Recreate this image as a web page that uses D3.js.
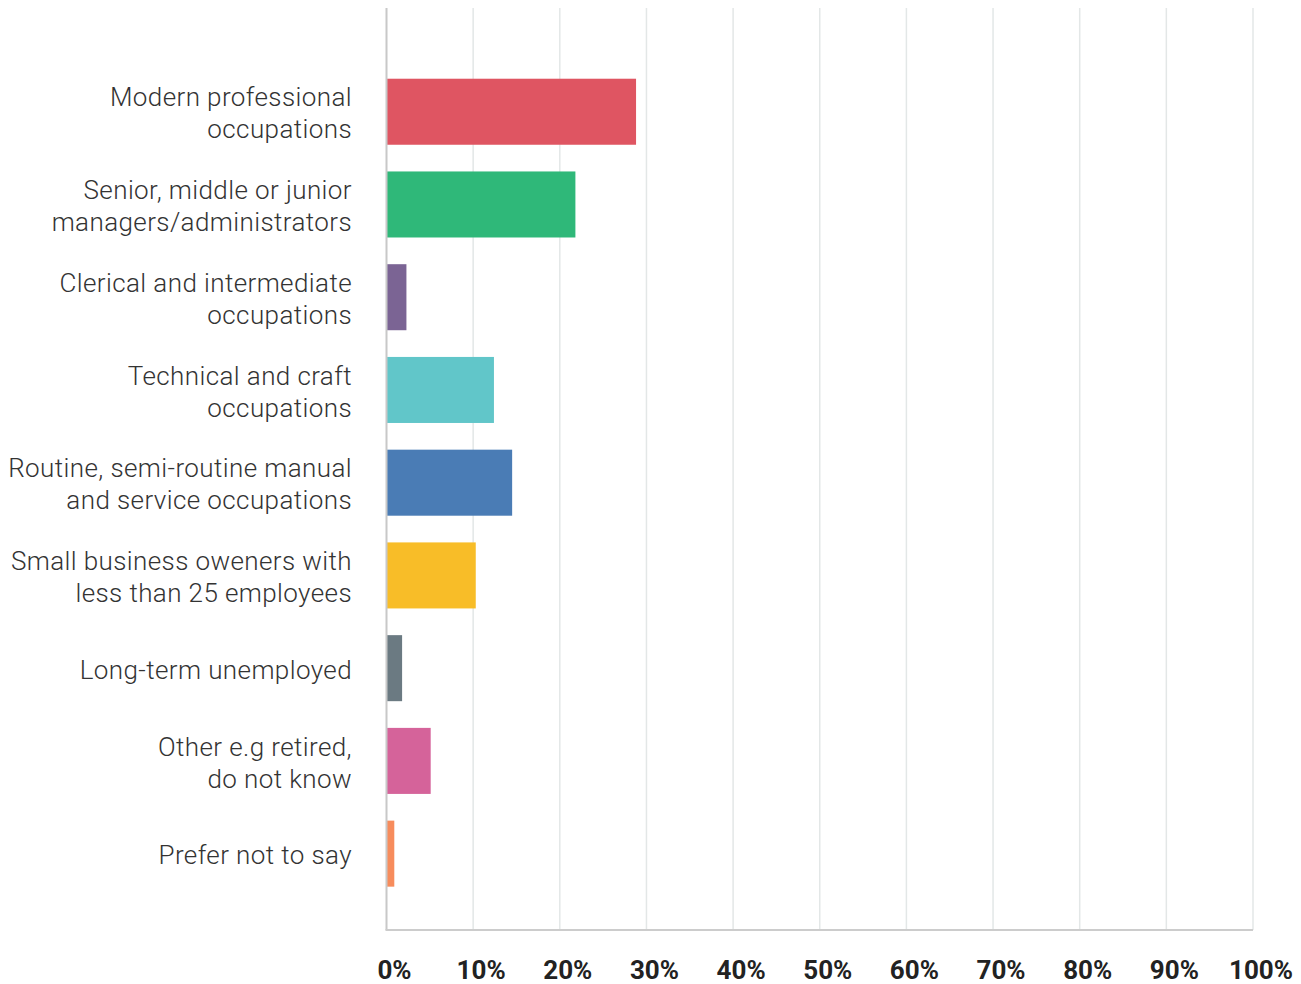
<!DOCTYPE html>
<html>
<head>
<meta charset="utf-8">
<script src="https://cdn.jsdelivr.net/npm/d3@7"></script>
<style>
  html, body { margin: 0; padding: 0; background: #ffffff; }
  svg { display: block; }
</style>
</head>
<body>
<svg id="chart" width="1301" height="984"></svg>
<script>
// Occupation groups (label lines), share of respondents (%) and bar colours
const categories = [
  ["Modern professional", "occupations"],
  ["Senior, middle or junior", "managers/administrators"],
  ["Clerical and intermediate", "occupations"],
  ["Technical and craft", "occupations"],
  ["Routine, semi-routine manual", "and service occupations"],
  ["Small business oweners with", "less than 25 employees"],
  ["Long-term unemployed"],
  ["Other e.g retired,", "do not know"],
  ["Prefer not to say"]
];
const values = [28.8, 21.8, 2.3, 12.4, 14.5, 10.3, 1.8, 5.1, 0.9];
const colors = ["#df5562", "#2fb879", "#7b6494", "#61c6c9", "#4a7cb5",
                "#f8bd28", "#6b7a82", "#d5639a", "#f78c5c"];
const tickValues = [0, 10, 20, 30, 40, 50, 60, 70, 80, 90, 100];

const svg = d3.select("#chart");
const plot = { left: 386.5, right: 1253, top: 8, bottom: 930 };

const x = d3.scaleLinear().domain([0, 100]).range([plot.left, plot.right]);
const y = d3.scaleBand()
  .domain(d3.range(categories.length))
  .range([plot.top, plot.bottom])
  .paddingInner(0.288)
  .paddingOuter(0.615)
  .align(0.62);

// vertical gridlines
svg.append("g")
  .selectAll("line")
  .data(tickValues.slice(1))
  .join("line")
  .attr("x1", d => x(d)).attr("x2", d => x(d))
  .attr("y1", plot.top).attr("y2", plot.bottom)
  .attr("stroke", "#e3e7e7")
  .attr("stroke-width", 1.5);

// bars
svg.append("g")
  .selectAll("rect")
  .data(values)
  .join("rect")
  .attr("x", x(0) + 0.5)
  .attr("y", (d, i) => y(i))
  .attr("width", d => x(d) - x(0) - 0.5)
  .attr("height", y.bandwidth())
  .attr("fill", (d, i) => colors[i]);

// axis lines
svg.append("line")
  .attr("x1", x(0)).attr("x2", x(0))
  .attr("y1", plot.top).attr("y2", plot.bottom)
  .attr("stroke", "#c8c8c8").attr("stroke-width", 2);
svg.append("line")
  .attr("x1", x(0) - 1).attr("x2", plot.right)
  .attr("y1", plot.bottom).attr("y2", plot.bottom)
  .attr("stroke", "#cccccc").attr("stroke-width", 2);

// category labels, centred on each bar by cap height
const labelSize = 26;
const capHalf = labelSize * 0.711 / 2;
const lineGap = 32;
const labels = svg.append("g")
  .attr("font-family", "Roboto, sans-serif")
  .attr("font-weight", 300)
  .attr("font-size", labelSize)
  .attr("letter-spacing", 0.4)
  .attr("fill", "#333333")
  .attr("text-anchor", "end");
categories.forEach((lines, i) => {
  const cy = y(i) + y.bandwidth() / 2 + 1.5;
  lines.forEach((ln, k) => {
    labels.append("text")
      .attr("x", 352)
      .attr("y", cy + capHalf + (k - (lines.length - 1) / 2) * lineGap)
      .text(ln);
  });
});

// x tick labels
svg.append("g")
  .attr("font-family", "Roboto, sans-serif")
  .attr("font-weight", 700)
  .attr("font-size", 26)
  .attr("fill", "#222222")
  .attr("text-anchor", "middle")
  .selectAll("text")
  .data(tickValues)
  .join("text")
  .attr("x", d => x(d) + 8)
  .attr("y", 978.5)
  .text(d => d + "%");
</script>
</body>
</html>
